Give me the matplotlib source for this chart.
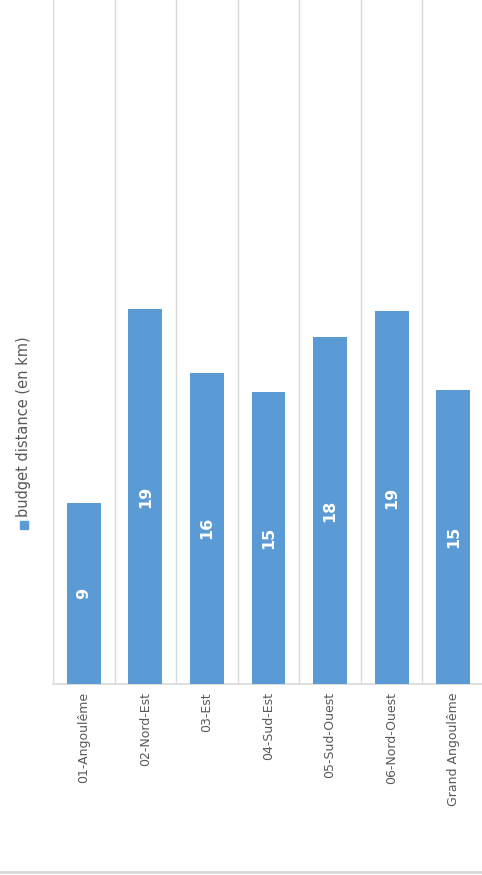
import numpy as np
import matplotlib.pyplot as plt
from matplotlib.patches import Rectangle

# data
categories = ["01-Angoulême", "02-Nord-Est", "03-Est", "04-Sud-Est",
              "05-Sud-Ouest", "06-Nord-Ouest", "Grand Angoulême"]
budget_km = [9.2, 19.0, 15.8, 14.8, 17.6, 18.9, 14.9]
series_name = "budget distance (en km)"

bar_color = "#5B9BD5"
grid_color = "#D9D9D9"
text_color = "#595959"

fig = plt.figure(figsize=(4.82, 8.75), dpi=100)
ax = fig.add_axes([53 / 482, 191 / 875, 431 / 482, 684 / 875])

x = np.arange(len(categories))
bars = ax.bar(x, budget_km, width=0.55, color=bar_color, zorder=3)

ax.set_xlim(-0.5, len(categories) - 0.5)
ax.set_ylim(0, 34.7)

# category separators
ax.set_xticks(np.arange(len(categories) + 1) - 0.5, minor=True)
ax.grid(which="minor", axis="x", color=grid_color, linewidth=1.0, zorder=0)
ax.tick_params(which="minor", length=0)

ax.set_xticks(x)
ax.set_xticklabels(categories, rotation=90, fontsize=9, color=text_color,
                   va="top", ha="center")
ax.tick_params(axis="x", length=0, pad=6)
ax.set_yticks([])

for side in ["top", "right", "left"]:
    ax.spines[side].set_visible(False)
ax.spines["bottom"].set_color(grid_color)
ax.spines["bottom"].set_linewidth(1.2)

# value labels inside bars
for b, v in zip(bars, budget_km):
    ax.text(b.get_x() + b.get_width() / 2, v / 2, f"{v:.0f}", rotation=90,
            ha="center", va="center", color="white", fontsize=11.5,
            fontweight="bold", zorder=4)

# rotated legend on the left
fig.patches.append(Rectangle((20 / 482, (875 - 529) / 875), 8 / 482, 8 / 875,
                             transform=fig.transFigure, color=bar_color))
fig.text(24 / 482, (875 - 517) / 875, series_name, rotation=90,
         ha="center", va="bottom", fontsize=10.5, color=text_color)

# bottom border
fig.add_artist(plt.Line2D([0, 1], [3 / 875, 3 / 875], color=grid_color,
                          linewidth=2, transform=fig.transFigure))

fig.savefig("out.png", dpi=100)
